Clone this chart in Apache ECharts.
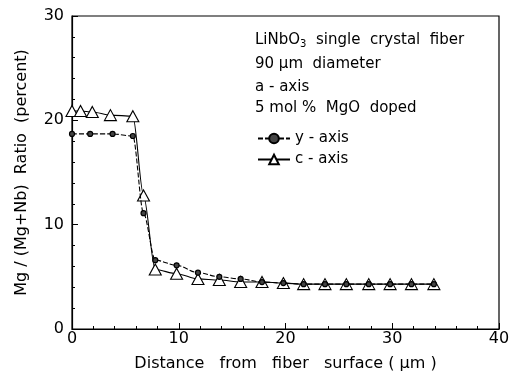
<!DOCTYPE html>
<html>
<head>
<meta charset="utf-8">
<script src="https://cdn.jsdelivr.net/npm/echarts@6/dist/echarts.min.js"></script>
<style>html,body{margin:0;padding:0;background:#fff}#c{width:513px;height:380px}</style>
</head>
<body>
<div id="c"></div>
<script>
// y-axis (circles) series
var yAxisX = [0, 1.7, 3.8, 5.7, 6.7, 7.8, 9.8, 11.8, 13.8, 15.8, 17.8, 19.8, 21.7, 23.7, 25.7, 27.8, 29.8, 31.8, 33.9];
var yAxisY = [18.7, 18.7, 18.7, 18.5, 11.1, 6.6, 6.1, 5.4, 5.0, 4.8, 4.5, 4.4, 4.3, 4.3, 4.3, 4.3, 4.3, 4.3, 4.3];
// c-axis (triangles) series
var cAxisX = [0, 0.8, 1.9, 3.6, 5.7, 6.7, 7.8, 9.8, 11.8, 13.8, 15.8, 17.8, 19.8, 21.7, 23.7, 25.7, 27.8, 29.8, 31.8, 33.9];
var cAxisY = [20.9, 20.9, 20.8, 20.5, 20.4, 12.8, 5.7, 5.3, 4.8, 4.7, 4.5, 4.5, 4.4, 4.3, 4.3, 4.3, 4.3, 4.3, 4.3, 4.3];
var seriesNames = ['y - axis', 'c - axis'];
var noteLines = ['90 μm  diameter', 'a - axis', '5 mol %  MgO  doped'];
var xTitle = 'Distance   from   fiber   surface ( μm )';
var yTitle = 'Mg / (Mg+Nb)  Ratio  (percent)';

function pairs(xs, ys) { return xs.map(function (x, i) { return [x, ys[i]]; }); }

var FONT = 'DejaVu Sans';
var chart = echarts.init(document.getElementById('c'), null, {renderer: 'canvas'});
var axisCommon = {
  axisLine: {show: true, lineStyle: {color: '#000', width: 1.2}},
  axisTick: {show: true, inside: true, length: 6, lineStyle: {color: '#000'}},
  minorTick: {show: true, splitNumber: 5, length: 3, lineStyle: {color: '#000'}},
  splitLine: {show: false},
  axisLabel: {color: '#000', fontSize: 16, fontFamily: FONT},
  nameTextStyle: {color: '#000', fontSize: 16, fontFamily: FONT}
};
chart.setOption({
  animation: false,
  backgroundColor: '#fff',
  grid: {left: 72, right: 14, top: 16, bottom: 51, show: true, borderColor: '#000', borderWidth: 1.2},
  xAxis: Object.assign({}, axisCommon, {
    type: 'value', min: 0, max: 40, interval: 10,
    name: xTitle, nameLocation: 'middle', nameGap: 27,
    axisLabel: Object.assign({}, axisCommon.axisLabel, {margin: 2})
  }),
  yAxis: Object.assign({}, axisCommon, {
    type: 'value', min: 0, max: 30, interval: 10,
    name: yTitle, nameLocation: 'middle', nameGap: 42,
    axisLabel: Object.assign({}, axisCommon.axisLabel, {margin: 8})
  }),
  legend: {
    orient: 'vertical', left: 252, top: 126, itemGap: 6, itemWidth: 32, itemHeight: 12,
    textStyle: {color: '#000', fontSize: 15, fontFamily: FONT},
    data: [seriesNames[0], seriesNames[1]]
  },
  graphic: [
    {type: 'text', left: 255, top: 33, style: {
      text: '{a|LiNbO}{s|3}{a|  single  crystal  fiber}',
      rich: {a: {fontSize: 15, fontFamily: FONT, fill: '#000'}, s: {fontSize: 10, fontFamily: FONT, fill: '#000', padding: [8, 0, 0, 0]}}
    }},
    {type: 'text', left: 255, top: 57, style: {text: noteLines[0], font: '15px ' + FONT, fill: '#000'}},
    {type: 'text', left: 255, top: 80, style: {text: noteLines[1], font: '15px ' + FONT, fill: '#000'}},
    {type: 'text', left: 255, top: 101, style: {text: noteLines[2], font: '15px ' + FONT, fill: '#000'}}
  ],
  series: [
    {
      name: seriesNames[1], type: 'line', data: pairs(cAxisX, cAxisY),
      smooth: 0.3, smoothMonotone: 'x',
      symbol: 'triangle', symbolSize: [12, 11],
      itemStyle: {color: '#fff', borderColor: '#000', borderWidth: 1.1},
      lineStyle: {color: '#000', width: 1.1}, z: 2
    },
    {
      name: seriesNames[0], type: 'line', data: pairs(yAxisX, yAxisY),
      smooth: 0.3, smoothMonotone: 'x',
      symbol: 'circle', symbolSize: 5,
      itemStyle: {color: '#444', borderColor: '#000', borderWidth: 1.2},
      lineStyle: {color: '#000', width: 1.1, type: [5, 2]}, z: 3
    }
  ]
});
</script>
</body>
</html>
